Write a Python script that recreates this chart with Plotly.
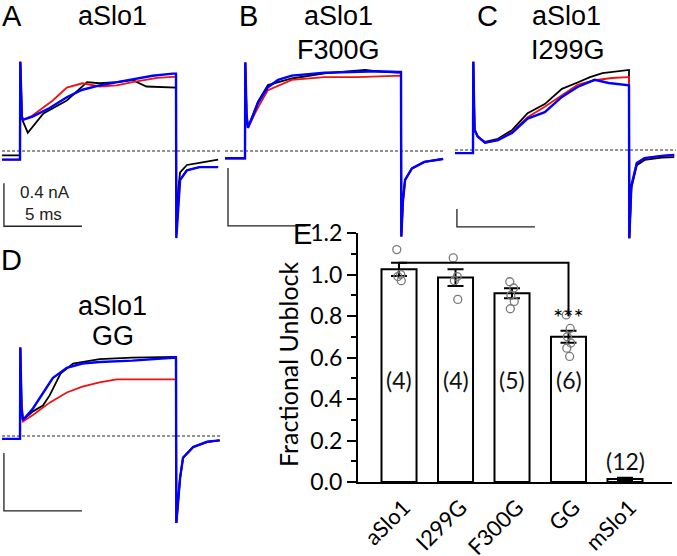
import plotly.graph_objects as go

W, H = 677, 556

# ---------------- data: current traces (time in ms, current in nA) ----------------
# Panel A  aSlo1
A_black_t = [-1.15, 0, 0, 0.02, 0.12, 0.5, 1.5, 3.0, 4.3, 5.1, 6.2, 7.2, 8.1, 9.8, 10, 10.02, 10.15, 10.26, 10.7, 11.5, 12.7]
A_black_i = [-0.04, -0.04, 0.0, 0.83, 0.30, 0.17, 0.35, 0.47, 0.64, 0.63, 0.64, 0.66, 0.60, 0.59, 0.59, -0.70, -0.35, -0.20, -0.13, -0.11, -0.08]
A_red_t = [-1.15, 0, 0, 0.02, 0.12, 0.2, 0.8, 2.1, 3.0, 4.0, 5.1, 6.2, 7.2, 8.8, 9.8, 10, 10.02, 10.15, 10.26, 10.7, 11.5, 12.7]
A_red_i = [-0.08, -0.08, 0.0, 0.83, 0.32, 0.29, 0.33, 0.47, 0.59, 0.63, 0.60, 0.61, 0.64, 0.68, 0.69, 0.69, -0.78, -0.45, -0.27, -0.18, -0.15, -0.15]
A_blue_t = [-1.15, 0, 0, 0.02, 0.12, 0.2, 0.8, 1.9, 3.0, 4.0, 5.1, 6.2, 7.2, 8.5, 9.8, 10, 10.02, 10.15, 10.26, 10.7, 11.5, 12.7]
A_blue_i = [-0.08, -0.08, 0.0, 0.83, 0.32, 0.29, 0.32, 0.40, 0.50, 0.57, 0.61, 0.64, 0.67, 0.70, 0.72, 0.72, -0.81, -0.45, -0.27, -0.18, -0.15, -0.15]

# Panel B  aSlo1 F300G
B_black_t = [-1.28, 0, 0, 0.02, 0.1, 0.19, 0.83, 1.47, 3.0, 5.1, 7.7, 8.8, 9.8, 10, 10.02, 10.12, 10.26, 10.7, 11.5, 12.7]
B_black_i = [-0.05, -0.05, 0.0, 0.61, 0.25, 0.16, 0.34, 0.455, 0.50, 0.535, 0.56, 0.545, 0.54, 0.54, -0.59, -0.35, -0.20, -0.12, -0.075, -0.055]
B_red_t = [-1.28, 0, 0, 0.02, 0.1, 0.19, 0.83, 1.47, 3.0, 5.1, 7.2, 9.8, 10, 10.02, 10.12, 10.26, 10.7, 11.5, 12.7]
B_red_i = [-0.05, -0.05, 0.0, 0.61, 0.25, 0.16, 0.30, 0.42, 0.49, 0.51, 0.51, 0.52, 0.52, -0.59, -0.35, -0.20, -0.12, -0.075, -0.055]
B_blue_t = [-1.28, 0, 0, 0.02, 0.1, 0.19, 0.83, 1.47, 2.12, 3.0, 5.1, 7.2, 8.5, 9.8, 10, 10.02, 10.12, 10.26, 10.7, 11.5, 12.7]
B_blue_i = [-0.05, -0.05, 0.0, 0.61, 0.25, 0.16, 0.33, 0.44, 0.49, 0.52, 0.54, 0.545, 0.55, 0.545, 0.545, -0.59, -0.35, -0.20, -0.12, -0.075, -0.055]

# Panel C  aSlo1 I299G
C_black_t = [-1.15, 0, 0, 0.02, 0.1, 0.3, 0.77, 1.6, 2.5, 3.5, 4.6, 5.7, 6.7, 7.5, 8.3, 9.9, 10, 10.02, 10.15, 10.5, 11.0, 12.1, 12.9]
C_black_i = [-0.07, -0.07, 0.0, 1.96, 0.45, 0.30, 0.18, 0.25, 0.44, 0.82, 1.02, 1.36, 1.50, 1.62, 1.71, 1.78, 1.78, -1.96, -0.85, -0.34, -0.22, -0.17, -0.16]
C_red_t = [-1.15, 0, 0, 0.02, 0.1, 0.3, 0.77, 1.6, 2.5, 3.5, 4.6, 5.7, 6.7, 7.8, 8.9, 9.9, 10, 10.02, 10.15, 10.5, 11.0, 12.1, 12.9]
C_red_i = [-0.07, -0.07, 0.0, 1.96, 0.45, 0.30, 0.16, 0.22, 0.40, 0.73, 0.96, 1.22, 1.45, 1.55, 1.60, 1.62, 1.62, -1.96, -0.80, -0.29, -0.18, -0.13, -0.11]
C_blue_t = [-1.15, 0, 0, 0.02, 0.1, 0.3, 0.77, 1.6, 2.5, 3.5, 4.6, 5.7, 6.7, 7.8, 8.7, 9.9, 10, 10.02, 10.15, 10.5, 11.0, 12.1, 12.9]
C_blue_i = [-0.07, -0.07, 0.0, 1.96, 0.45, 0.30, 0.16, 0.22, 0.38, 0.70, 0.84, 1.18, 1.40, 1.56, 1.49, 1.44, 1.44, -1.96, -0.80, -0.29, -0.18, -0.13, -0.11]

# Panel D  aSlo1 GG
D_black_t = [-1.15, 0, 0, 0.02, 0.1, 0.19, 0.83, 1.47, 1.9, 2.6, 3.4, 5.1, 7.2, 9.8, 10, 10.02, 10.26, 10.45, 11.1, 12.0, 12.8]
D_black_i = [-0.02, -0.02, 0.0, 0.61, 0.20, 0.11, 0.17, 0.21, 0.28, 0.43, 0.50, 0.53, 0.54, 0.545, 0.545, -0.60, -0.29, -0.15, -0.076, -0.04, -0.03]
D_red_t = [-1.15, 0, 0, 0.02, 0.1, 0.19, 0.83, 1.9, 3.0, 4.0, 5.1, 6.2, 8.3, 9.8, 10, 10.02, 10.26, 10.45, 11.1, 12.0, 12.8]
D_red_i = [-0.02, -0.02, 0.0, 0.61, 0.20, 0.10, 0.145, 0.23, 0.30, 0.34, 0.37, 0.39, 0.39, 0.39, 0.39, -0.60, -0.29, -0.15, -0.076, -0.04, -0.03]
D_blue_t = [-1.15, 0, 0, 0.02, 0.1, 0.19, 0.83, 1.47, 2.1, 3.0, 4.0, 5.1, 7.2, 9.8, 10, 10.02, 10.26, 10.45, 11.1, 12.0, 12.8]
D_blue_i = [-0.02, -0.02, 0.0, 0.61, 0.20, 0.11, 0.19, 0.30, 0.40, 0.47, 0.50, 0.51, 0.52, 0.54, 0.54, -0.60, -0.29, -0.15, -0.076, -0.04, -0.03]

# scale bars: 5 ms, 0.4 nA
bar_ms = 5
bar_nA = 0.4

# ---------------- data: bar chart (panel E) ----------------
categories = ["aSlo1", "I299G", "F300G", "GG", "mSlo1"]
means = [1.025, 0.985, 0.91, 0.70, 0.015]
sems = [0.032, 0.04, 0.024, 0.029, 0.005]
n_labels = ["(4)", "(4)", "(5)", "(6)", "(12)"]
points = [
    [1.12, 1.00, 0.99, 0.97],
    [1.08, 0.99, 0.97, 0.88],
    [0.965, 0.935, 0.90, 0.87, 0.835],
    [0.805, 0.74, 0.70, 0.67, 0.645, 0.605],
    [],
]
y_ticks = [0.0, 0.2, 0.4, 0.6, 0.8, 1.0, 1.2]
sig_text = "***"

# ---------------- layout helpers ----------------
KX = 15.6  # px per ms


def px(p):
    return p / W


def py(p):
    return 1 - p / H


fig = go.Figure()
layout = dict(
    template="none",
    width=W, height=H, margin=dict(l=0, r=0, t=0, b=0, pad=0, autoexpand=False),
    paper_bgcolor="white", plot_bgcolor="rgba(0,0,0,0)",
    showlegend=False,
)

panels = {
    # name: (axis idx, px0, px1, top, bottom, t0 px, baseline px, px per nA)
    "A": (2, 0, 225, 50, 245, 20, 151, 107.5),
    "B": (3, 225, 450, 50, 245, 245, 151, 145),
    "C": (4, 450, 677, 50, 245, 473, 150, 45),
    "D": (5, 0, 225, 330, 530, 20, 436, 145),
}
traces = {
    "A": [(A_black_t, A_black_i), (A_red_t, A_red_i), (A_blue_t, A_blue_i)],
    "B": [(B_black_t, B_black_i), (B_red_t, B_red_i), (B_blue_t, B_blue_i)],
    "C": [(C_black_t, C_black_i), (C_red_t, C_red_i), (C_blue_t, C_blue_i)],
    "D": [(D_black_t, D_black_i), (D_red_t, D_red_i), (D_blue_t, D_blue_i)],
}
colors = ["#000000", "#ee1111", "#0000ff"]
widths = [1.8, 1.8, 2.4]
# scale bar corner (ms, nA) in each panel
sb_corner = {"A": (-1.03, -0.70), "B": (-1.09, -0.517), "C": (-1.03, -1.71), "D": (-1.03, -0.517)}
dash_span = {"A": (-1.15, 12.95), "B": (-1.28, 12.8), "C": (-1.15, 13.0), "D": (-1.15, 12.95)}

for name, (idx, x0, x1, top, bot, t0, base, ky) in panels.items():
    xa, ya = f"x{idx}", f"y{idx}"
    layout[f"xaxis{idx}"] = dict(domain=[px(x0), px(x1)], range=[(x0 - t0) / KX, (x1 - t0) / KX],
                                 visible=False, anchor=ya, fixedrange=True, automargin=False)
    layout[f"yaxis{idx}"] = dict(domain=[py(bot), py(top)], range=[(base - bot) / ky, (base - top) / ky],
                                 visible=False, anchor=xa, fixedrange=True, automargin=False)
    # dashed zero line
    d0, d1 = dash_span[name]
    fig.add_trace(go.Scatter(x=[d0, d1], y=[0, 0], mode="lines", xaxis=xa, yaxis=ya,
                             line=dict(color="#222222", width=1, dash="3px,2px"), hoverinfo="skip"))
    # scale bar
    cx, cy = sb_corner[name]
    fig.add_trace(go.Scatter(x=[cx, cx, cx + bar_ms], y=[cy + bar_nA, cy, cy], mode="lines",
                             xaxis=xa, yaxis=ya, line=dict(color="#222222", width=1.3), hoverinfo="skip"))
    for (t, i), c, w in zip(traces[name], colors, widths):
        fig.add_trace(go.Scatter(x=t, y=i, mode="lines", xaxis=xa, yaxis=ya,
                                 line=dict(color=c, width=w), hoverinfo="skip"))

# scale bar labels in A
ann = []
ann.append(dict(x=sb_corner["A"][0] + 2.65, y=sb_corner["A"][1] + 0.31, xref="x2", yref="y2",
                text=f"{bar_nA} nA", showarrow=False, font=dict(family="Liberation Sans", size=17, color="#222")))
ann.append(dict(x=sb_corner["A"][0] + 2.55, y=sb_corner["A"][1] + 0.105, xref="x2", yref="y2",
                text=f"{bar_ms} ms", showarrow=False, font=dict(family="Liberation Sans", size=17, color="#222")))

# panel letters and titles (paper coords)
TF = dict(family="Liberation Sans", size=27, color="black")
LF = dict(family="Liberation Sans", size=29, color="black")
for txt, x, y in [("A", 1, 16), ("B", 238, 16), ("C", 476, 16), ("D", 0, 260), ("E", 292, 234)]:
    ann.append(dict(x=px(x), y=py(y), xref="paper", yref="paper", text=txt, showarrow=False,
                    xanchor="left", yanchor="middle", font=LF, borderpad=0))
for txt, x, y in [("aSlo1", 113, 16), ("aSlo1", 338, 16), ("F300G", 338, 50),
                  ("aSlo1", 566, 16), ("I299G", 568, 50), ("aSlo1", 113, 306), ("GG", 113, 336)]:
    ann.append(dict(x=px(x), y=py(y), xref="paper", yref="paper", text=txt, showarrow=False,
                    xanchor="center", yanchor="middle", font=TF))

# ---------------- panel E ----------------
BF = "Lato"
xs = list(range(len(categories)))
fig.add_trace(go.Bar(x=xs, y=means, width=0.62, xaxis="x", yaxis="y",
                     marker=dict(color="white", line=dict(color="black", width=2)),
                     error_y=dict(type="data", array=sems, color="black", thickness=2, width=8),
                     hoverinfo="skip"))
jit = [-0.04, 0.03, -0.02, 0.04, -0.03, 0.02]
for k, vals in enumerate(points):
    if vals:
        fig.add_trace(go.Scatter(x=[k + jit[j % len(jit)] for j in range(len(vals))], y=vals, mode="markers",
                                 xaxis="x", yaxis="y", hoverinfo="skip",
                                 marker=dict(symbol="circle-open", size=8, color="#7a7a7a", line=dict(width=1.3))))
# significance bracket
fig.add_trace(go.Scatter(x=[0, 3, 3], y=[1.057, 1.057, 0.80], mode="lines", xaxis="x", yaxis="y",
                         line=dict(color="black", width=2), hoverinfo="skip"))
ann.append(dict(x=3, y=0.80, xref="x", yref="y", text=sig_text, showarrow=False,
                font=dict(family=BF, size=24, color="black")))
for k, lab in enumerate(n_labels):
    yv = 0.49 if k < 4 else 0.10
    ann.append(dict(x=k, y=yv, xref="x", yref="y", text=lab, showarrow=False,
                    font=dict(family=BF, size=23, color="#111")))
ann.append(dict(x=px(288), y=py(364), xref="paper", yref="paper", text="Fractional Unblock",
                textangle=-90, showarrow=False, font=dict(family=BF, size=25, color="black"), borderpad=0))

layout["xaxis"] = dict(domain=[px(358), px(672)], range=[-0.726, 4.832], anchor="y",
                       showline=True, linecolor="black", linewidth=2, ticks="",
                       tickmode="array", tickvals=xs, ticktext=categories, tickangle=-45,
                       ticklabelshift=5, ticklabelstandoff=2,
                       tickfont=dict(family=BF, size=22, color="black"), showgrid=False,
                       zeroline=False, fixedrange=True, automargin=False)
layout["yaxis"] = dict(domain=[py(482), py(233)], range=[0, 1.2], anchor="x",
                       showline=True, linecolor="black", linewidth=2, ticks="outside",
                       ticklen=9, tickwidth=2, tickcolor="black",
                       tickmode="array", tickvals=y_ticks, ticktext=[f"{v:.1f}" for v in y_ticks],
                       tickfont=dict(family=BF, size=23, color="black"),
                       minor=dict(tickmode="array", tickvals=[0.1, 0.3, 0.5, 0.7, 0.9, 1.1],
                                  ticks="outside", ticklen=5, tickwidth=2, tickcolor="black"),
                       showgrid=False, zeroline=False, fixedrange=True, automargin=False)
layout["annotations"] = ann
fig.update_layout(**layout)
fig.write_html("out.html", config={"displayModeBar": False},
               post_script="document.body.style.margin='0';document.body.style.overflow='hidden';")
